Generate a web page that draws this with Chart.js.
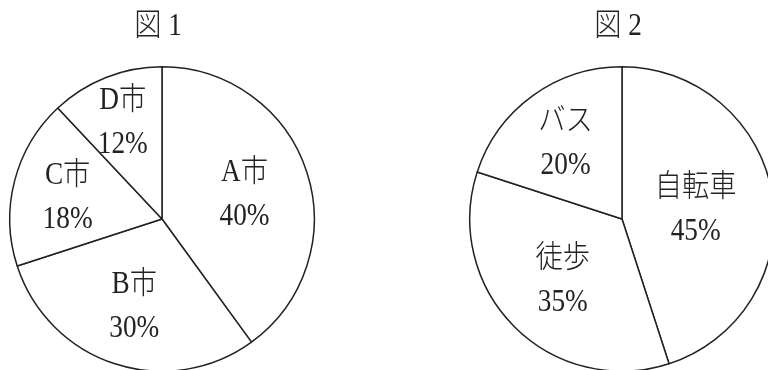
<!DOCTYPE html>
<html>
<head>
<meta charset="utf-8">
<script src="https://cdn.jsdelivr.net/npm/chart.js@4/dist/chart.umd.min.js"></script>
<style>
  html, body { margin: 0; padding: 0; background: #fff; width: 768px; height: 370px; overflow: hidden; }
  .box { position: absolute; top: 0; }
</style>
</head>
<body>
<div class="box" style="left:0px"><canvas id="fig1" width="384" height="372"></canvas></div>
<div class="box" style="left:384px"><canvas id="fig2" width="400" height="372"></canvas></div>
<script>
// 図1: 市ごとの割合
const fig1Labels = ['A市', 'B市', 'C市', 'D市'];
const fig1Values = [40, 30, 18, 12];
// 図2: 通勤手段の割合
const fig2Labels = ['自転車', '徒歩', 'バス'];
const fig2Values = [45, 35, 20];
const figTitles = ['図 1', '図 2'];

const ink = '#222';
const font = '300 31px "Liberation Serif", "Noto Sans CJK JP"';
const squeeze = 0.88; // narrow the glyphs a bit, like the mincho print

function putText(ctx, txt, x, y) {
    ctx.save();
    ctx.translate(x, y);
    ctx.scale(squeeze, 1);
    ctx.fillText(txt, 0, 0);
    ctx.restore();
}

// draws the slice names / percents inside each arc and the figure title above
const sliceText = {
    id: 'sliceText',
    afterDatasetsDraw(chart, args, opts) {
        const ctx = chart.ctx;
        const meta = chart.getDatasetMeta(0);
        const values = chart.data.datasets[0].data;
        ctx.save();
        ctx.fillStyle = ink;
        ctx.font = font;
        ctx.textAlign = 'center';
        ctx.textBaseline = 'alphabetic';
        let cx = 0, cy = 0, outer = 0;
        meta.data.forEach(function(arc, i) {
            const p = arc.getProps(['x', 'y', 'startAngle', 'endAngle', 'outerRadius'], true);
            cx = p.x; cy = p.y; outer = p.outerRadius;
            const mid = (p.startAngle + p.endAngle) / 2;
            const r = p.outerRadius * opts.radius[i];
            const lx = p.x + Math.cos(mid) * r;
            const ly = p.y + Math.sin(mid) * r;
            putText(ctx, chart.data.labels[i], lx, ly - 11);
            putText(ctx, values[i] + '%', lx, ly + 33);
        });
        putText(ctx, opts.title, cx - 4, cy - outer - 32);
        ctx.restore();
    }
};

function makePie(id, labels, values, title, radius, pad) {
    new Chart(document.getElementById(id), {
        type: 'pie',
        data: {
            labels: labels,
            datasets: [{
                data: values,
                backgroundColor: '#fff',
                borderColor: ink,
                borderWidth: 1.5
            }]
        },
        options: {
            responsive: false,
            animation: false,
            devicePixelRatio: 1,
            layout: { padding: pad },
            plugins: {
                legend: { display: false },
                tooltip: { enabled: false },
                sliceText: { title: title, radius: radius }
            }
        },
        plugins: [sliceText]
    });
}

makePie('fig1', fig1Labels, fig1Values, figTitles[0],
    [0.57, 0.59, 0.64, 0.70],
    { left: 9, top: 66, right: 69, bottom: 0 });
makePie('fig2', fig2Labels, fig2Values, figTitles[1],
    [0.49, 0.55, 0.63],
    { left: 85, top: 66, right: 9, bottom: 0 });
</script>
</body>
</html>
